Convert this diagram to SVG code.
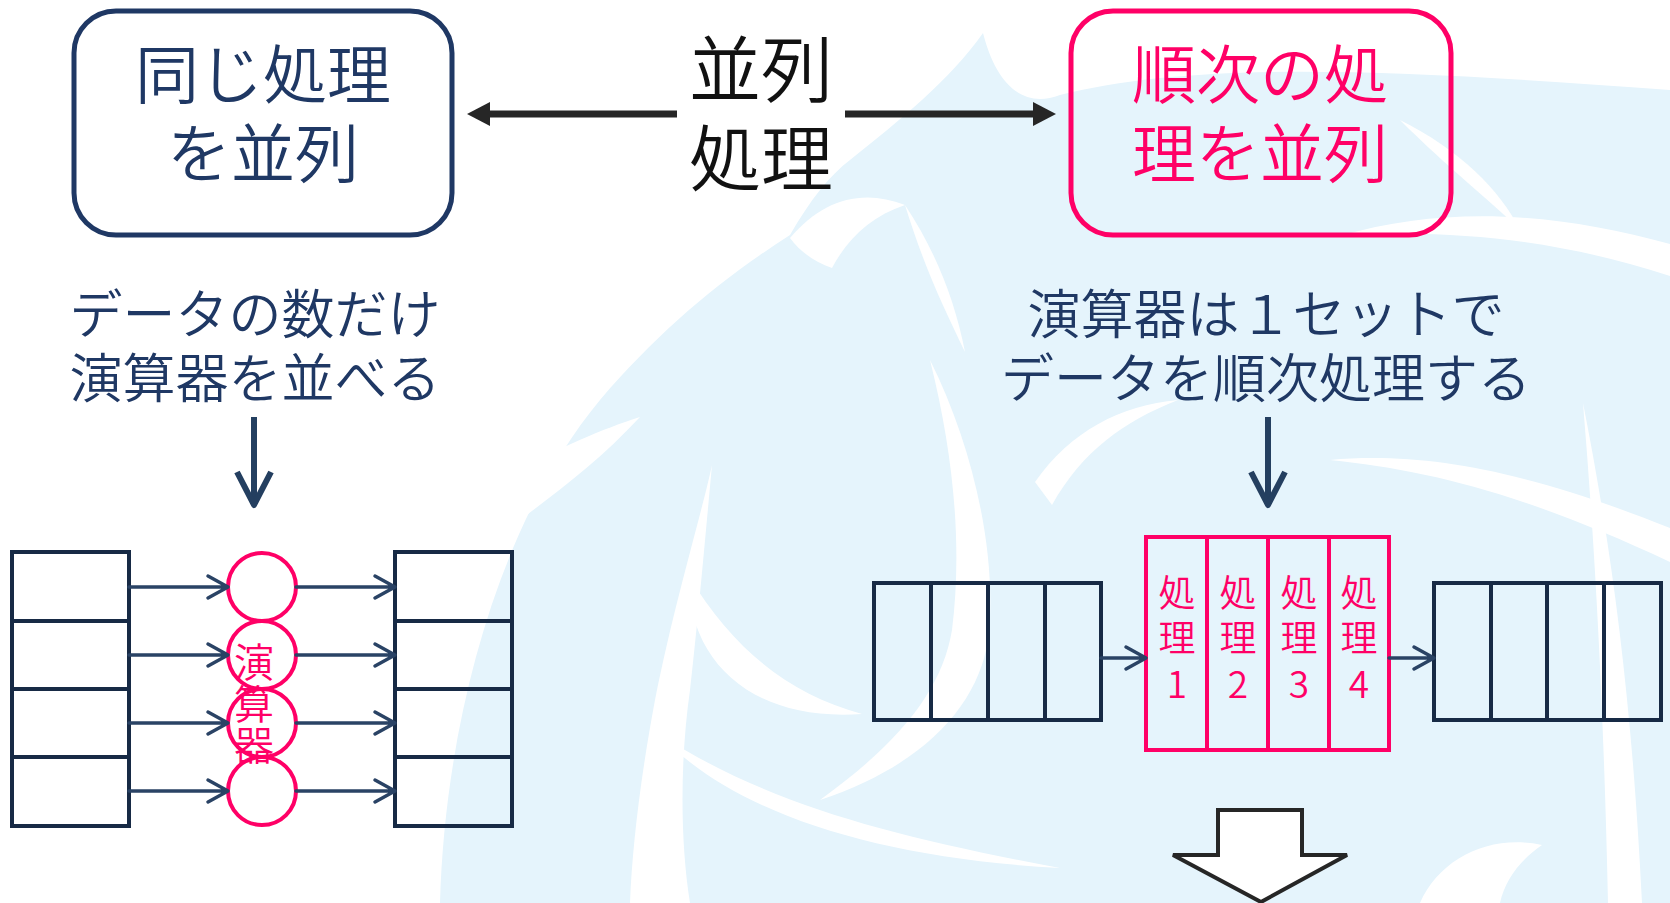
<svg xmlns="http://www.w3.org/2000/svg" width="1670" height="903" viewBox="0 0 1670 903">
<style>
.t{font-family:"Noto Sans CJK JP","Noto Sans",sans-serif;text-anchor:middle;font-weight:350}
.navy{fill:#1F3864}
.pink{fill:#FF0066}
.blk{fill:#111111}
.grid{fill:none;stroke:#172A45;stroke-width:4}
.pk{fill:none;stroke:#FF0066;stroke-width:4}
.ar{fill:none;stroke:#2A4365;stroke-width:3.5;stroke-linecap:round;stroke-linejoin:round}
.dar{fill:none;stroke:#243F60;stroke-width:6;stroke-linejoin:round}
.wm{fill:#E5F4FC}
.wh{fill:#FFFFFF}
</style>
<rect width="1670" height="903" fill="#FFFFFF"/>
<g id="watermark">
<path class="wm" d="M440,903 C445,720 500,520 600,400 C660,330 720,280 790,235 C810,200 830,175 850,160 C900,120 950,80 983,33 C995,80 1020,110 1060,95 C1200,60 1400,70 1670,90 L1670,903 Z"/>
<path class="wh" d="M494,487 C550,450 600,430 640,417 C600,460 560,490 520,520 Z"/>
<path class="wh" d="M712,465 C700,520 675,600 655,700 C640,780 632,850 630,903 L690,903 C680,840 680,760 690,690 C698,620 705,540 712,465 Z"/>
<path class="wh" d="M688,575 C688,660 750,722 862,714 C790,694 735,652 688,575 Z"/>
<path class="wh" d="M660,735 C730,810 870,858 1060,868 C890,836 770,805 660,735 Z"/>
<path class="wh" d="M930,360 C975,450 998,560 988,640 C978,705 925,765 820,800 C900,742 942,690 952,630 C962,550 955,460 930,360 Z"/>
<path class="wh" d="M790,238 C822,200 862,188 905,205 C872,216 848,238 832,268 C815,262 800,252 790,238 Z"/>
<path class="wh" d="M905,205 C935,250 955,300 965,352 C945,310 925,270 905,205 Z"/>
<path class="wh" d="M1035,482 C1070,432 1120,405 1178,400 C1122,422 1082,452 1052,505 Z"/>
<path class="wh" d="M1340,236 C1450,204 1560,214 1670,244 L1670,276 C1560,240 1450,228 1340,236 Z"/>
<path class="wh" d="M1330,460 C1420,452 1520,468 1670,528 L1670,562 C1530,496 1430,470 1330,460 Z"/>
<path class="wh" d="M1583,403 C1612,550 1632,700 1642,903 L1608,903 C1604,720 1596,560 1583,403 Z"/>
<path class="wh" d="M1420,903 C1440,858 1490,834 1542,845 C1520,860 1505,880 1500,903 Z"/>
<path class="wh" d="M1400,120 C1460,150 1500,190 1520,230 C1490,200 1450,170 1400,120 Z"/>
</g>
<g id="box-left">
<rect x="74" y="11" width="378" height="224" rx="42" ry="42" fill="none" stroke="#1F3864" stroke-width="5"/>
<text class="t navy" x="263" y="98" font-size="64">同じ処理</text>
<text class="t navy" x="263" y="177" font-size="64">を並列</text>
</g>
<g id="title-center">
<text class="t blk" x="761" y="96" font-size="72">並列</text>
<text class="t blk" x="761" y="185" font-size="72">処理</text>
</g>
<g id="box-right">
<rect x="1071" y="11" width="380" height="224" rx="42" ry="42" fill="none" stroke="#FF0066" stroke-width="5"/>
<text class="t pink" x="1260" y="98" font-size="64">順次の処</text>
<text class="t pink" x="1260" y="177" font-size="64">理を並列</text>
</g>
<g id="desc-left">
<text class="t navy" x="255" y="334" font-size="53">データの数だけ</text>
<text class="t navy" x="255" y="398" font-size="53">演算器を並べる</text>
</g>
<g id="desc-right">
<text class="t navy" x="1266" y="334" font-size="53">演算器は１セットで</text>
<text class="t navy" x="1266" y="398" font-size="53">データを順次処理する</text>
</g>
<g id="left-input">
<rect class="grid" x="12" y="552" width="117" height="274"/>
<line class="grid" x1="12" y1="621" x2="129" y2="621"/>
<line class="grid" x1="12" y1="689" x2="129" y2="689"/>
<line class="grid" x1="12" y1="757" x2="129" y2="757"/>
</g>
<g id="left-output">
<rect class="grid" x="395" y="552" width="117" height="274"/>
<line class="grid" x1="395" y1="621" x2="512" y2="621"/>
<line class="grid" x1="395" y1="689" x2="512" y2="689"/>
<line class="grid" x1="395" y1="757" x2="512" y2="757"/>
</g>
<g id="alu-left">
<circle class="pk" cx="262" cy="587" r="34" stroke-width="3.5"/>
<circle class="pk" cx="262" cy="655" r="34" stroke-width="3.5"/>
<circle class="pk" cx="262" cy="723" r="34" stroke-width="3.5"/>
<circle class="pk" cx="262" cy="791" r="34" stroke-width="3.5"/>
<text class="t pink" font-size="40"><tspan x="254" y="677">演</tspan><tspan x="254" y="719">算</tspan><tspan x="254" y="760">器</tspan></text>
</g>
<g id="right-input">
<rect class="grid" x="874" y="583" width="227" height="137"/>
<line class="grid" x1="931" y1="583" x2="931" y2="720"/>
<line class="grid" x1="988" y1="583" x2="988" y2="720"/>
<line class="grid" x1="1045" y1="583" x2="1045" y2="720"/>
</g>
<g id="proc-block">
<rect class="pk" x="1146" y="537" width="243" height="213"/>
<line class="pk" x1="1207" y1="537" x2="1207" y2="750"/>
<line class="pk" x1="1268" y1="537" x2="1268" y2="750"/>
<line class="pk" x1="1329" y1="537" x2="1329" y2="750"/>
<text class="t pink" font-size="37"><tspan x="1177" y="607">処</tspan><tspan x="1177" y="652">理</tspan><tspan x="1177" y="698">1</tspan></text>
<text class="t pink" font-size="37"><tspan x="1238" y="607">処</tspan><tspan x="1238" y="652">理</tspan><tspan x="1238" y="698">2</tspan></text>
<text class="t pink" font-size="37"><tspan x="1299" y="607">処</tspan><tspan x="1299" y="652">理</tspan><tspan x="1299" y="698">3</tspan></text>
<text class="t pink" font-size="37"><tspan x="1359" y="607">処</tspan><tspan x="1359" y="652">理</tspan><tspan x="1359" y="698">4</tspan></text>
</g>
<g id="right-output">
<rect class="grid" x="1434" y="583" width="227" height="137"/>
<line class="grid" x1="1491" y1="583" x2="1491" y2="720"/>
<line class="grid" x1="1547" y1="583" x2="1547" y2="720"/>
<line class="grid" x1="1604" y1="583" x2="1604" y2="720"/>
</g>
<g id="connectors">
<line x1="677" y1="114" x2="488" y2="114" stroke="#262626" stroke-width="7"/>
<polygon points="467,114 490,102 490,126" fill="#262626"/>
<line x1="845" y1="114" x2="1034" y2="114" stroke="#262626" stroke-width="7"/>
<polygon points="1056,114 1033,102 1033,126" fill="#262626"/>
<line x1="254" y1="417" x2="254" y2="503" stroke="#243F60" stroke-width="6"/>
<polyline class="dar" points="237,472 254,505 271,472"/>
<line x1="1268" y1="417" x2="1268" y2="503" stroke="#243F60" stroke-width="6"/>
<polyline class="dar" points="1251,472 1268,505 1285,472"/>
<path class="ar" d="M129,587 H227 M208,576 L228,587 L208,598"/>
<path class="ar" d="M129,655 H227 M208,644 L228,655 L208,666"/>
<path class="ar" d="M129,723 H227 M208,712 L228,723 L208,734"/>
<path class="ar" d="M129,791 H227 M208,780 L228,791 L208,802"/>
<path class="ar" d="M296,587 H394 M375,576 L395,587 L375,598"/>
<path class="ar" d="M296,655 H394 M375,644 L395,655 L375,666"/>
<path class="ar" d="M296,723 H394 M375,712 L395,723 L375,734"/>
<path class="ar" d="M296,791 H394 M375,780 L395,791 L375,802"/>
<path class="ar" d="M1101,658 H1145 M1126,647 L1146,658 L1126,669"/>
<path class="ar" d="M1389,658 H1433 M1414,647 L1434,658 L1414,669"/>
<polygon points="1218,810 1302,810 1302,855 1347,855 1261,902 1173,855 1218,855" fill="#FFFFFF" stroke="#262626" stroke-width="4"/>
</g>
</svg>
